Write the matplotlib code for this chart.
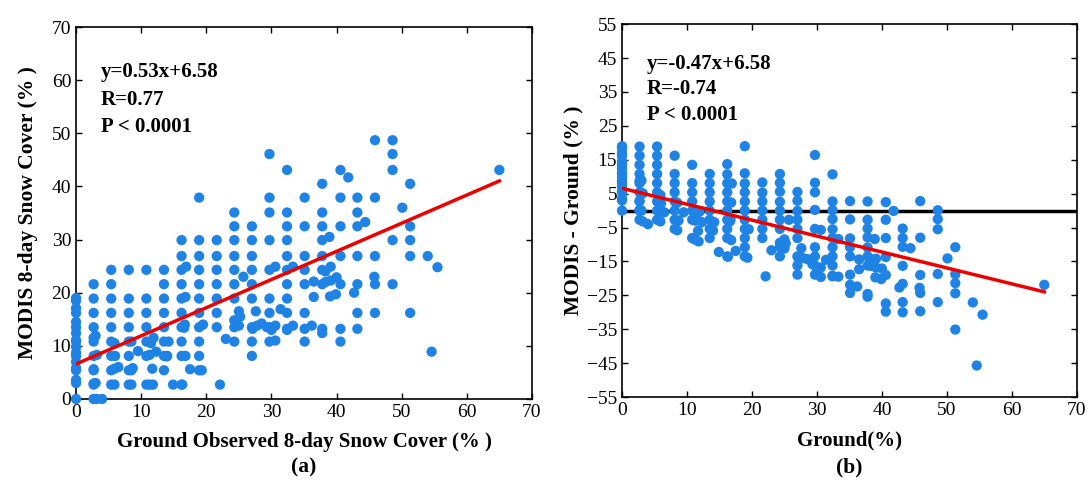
import numpy as np
import matplotlib
matplotlib.use("Agg")
import matplotlib.pyplot as plt

# Ground observed 8-day snow cover (%) and MODIS 8-day snow cover (%) pairs
ground = [
    # x = 0
    0, 0, 0, 0, 0, 0, 0, 0, 0, 0, 0, 0, 0, 0, 0, 0, 0, 0,
    # x = 2.7
    2.7, 2.7, 2.7, 2.7, 2.7, 2.7, 2.7, 2.7, 2.7, 2.7, 2.7, 2.7,
    3.2, 4.0, 3.0, 3.2, 3.0,
    # x = 5.4
    5.4, 5.4, 5.4, 5.4, 5.4, 5.4, 5.4, 5.4, 5.4,
    5.9, 5.9, 6.0, 5.9, 6.5,
    # x = 8.1
    8.1, 8.1, 8.1, 8.1, 8.1, 8.1, 8.1, 8.1,
    8.5, 8.7, 8.5, 9.5, 8.5,
    # x = 10.8
    10.8, 10.8, 10.8, 10.8, 10.8, 10.8, 10.8,
    11.3, 11.3, 11.8, 11.7, 11.9, 12.3, 11.5,
    # x = 13.5
    13.5, 13.5, 13.5, 13.5, 13.5, 13.5, 13.5, 13.5,
    14.0, 14.2, 13.9,
    14.9, 16.3,
    # x = 16.2
    16.2, 16.2, 16.2, 16.2, 16.2, 16.2, 16.2, 16.2, 16.2, 16.2,
    16.8, 16.7, 16.8, 16.9, 16.6,
    # x = 18.9
    18.9, 18.9, 18.9, 18.9, 18.9, 18.9, 18.9, 18.9, 18.9, 18.9, 18.9,
    19.3, 19.5, 17.5,
    22.1,
    # x = 21.6
    21.6, 21.6, 21.6, 21.6, 21.6, 21.6, 21.6,
    23.0,
    # x = 24.3
    24.3, 24.3, 24.3, 24.3, 24.3, 24.3, 24.3, 24.3, 24.3, 24.3,
    25.0, 25.2, 25.0, 25.7,
    # x = 27.0
    27.0, 27.0, 27.0, 27.0, 27.0, 27.0, 27.0, 27.0, 27.0,
    27.6, 27.8, 28.5, 29.3, 27.1,
    # x = 29.7
    29.7, 29.7, 29.7, 29.7, 29.7, 29.7, 29.7, 29.7, 29.7,
    30.6, 30.6, 30.6, 30.0,
    31.4,
    # x = 32.4
    32.4, 32.4, 32.4, 32.4, 32.4, 32.4, 32.4, 32.4, 32.4, 32.4,
    33.3, 33.3, 32.4,
    # x = 35.1
    35.1, 35.1, 35.1, 35.1, 35.1, 35.1, 35.1, 35.1,
    36.2, 36.5, 36.5,
    # x = 37.8
    37.8, 37.8, 37.8, 37.8, 37.8, 37.8, 37.8, 37.8, 37.8,
    38.3, 38.3,
    38.9, 39.1, 39.1, 39.0, 39.9, 40.0,
    # x = 40.5
    40.6, 40.6, 40.6, 40.6, 40.6, 40.6, 40.6,
    41.8, 42.7,
    # x = 43.2
    43.2, 43.2, 43.2, 43.2, 43.2, 43.2, 43.2,
    44.4,
    # x = 45.9
    45.9, 45.9, 45.9, 45.9, 45.9, 45.8,
    # x = 48.6
    48.6, 48.6, 48.6, 48.6, 48.6,
    50.1,
    # x = 51.3
    51.3, 51.3, 51.3, 51.3, 51.3,
    54.0, 54.6, 55.5, 65.0,
]

modis = [
    0, 3.0, 3.6, 5.4, 5.8, 7.0, 8.1, 8.7, 9.8, 10.8, 11.1, 12.4, 13.5, 14.5, 16.2, 17.1, 18.5, 19.0,
    0, 2.7, 2.9, 5.4, 5.6, 8.1, 10.8, 11.5, 13.5, 16.2, 18.9, 21.6,
    0, 0, 3.0, 8.3, 11.9,
    2.7, 5.4, 8.1, 10.8, 13.5, 16.2, 18.9, 21.6, 24.3,
    2.7, 5.7, 8.1, 10.5, 6.0,
    2.7, 5.4, 8.1, 10.8, 13.5, 16.2, 18.9, 24.3,
    5.4, 5.8, 10.8, 9.0, 2.7,
    2.7, 8.1, 10.8, 13.5, 16.2, 18.9, 24.3,
    8.3, 2.7, 2.7, 5.7, 11.5, 8.9, 10.5,
    5.4, 8.1, 10.8, 13.5, 16.2, 18.9, 21.6, 24.3,
    8.1, 10.8, 8.0,
    2.7, 2.7,
    2.7, 8.1, 10.8, 13.5, 16.2, 18.9, 21.6, 24.3, 26.9, 29.9,
    8.1, 14.0, 19.2, 24.9, 13.4,
    5.4, 8.1, 10.8, 13.5, 16.2, 18.9, 21.6, 24.3, 26.9, 29.9, 37.9,
    5.4, 14.0, 5.6,
    2.7,
    13.5, 16.2, 18.9, 21.6, 24.3, 26.9, 29.9,
    11.3,
    10.8, 13.5, 14.8, 18.9, 21.6, 24.3, 26.9, 29.9, 32.5, 35.1,
    13.8, 15.5, 16.5, 23.0,
    8.1, 10.8, 13.5, 18.9, 21.6, 24.3, 26.9, 29.9, 32.5,
    16.5, 13.8, 14.2, 13.5, 13.2,
    10.8, 13.5, 16.2, 18.9, 24.3, 29.9, 35.1, 37.9, 46.1,
    11.0, 13.8, 24.9, 13.0,
    16.9,
    13.2, 16.2, 18.9, 21.6, 24.3, 26.9, 29.9, 32.5, 35.1, 43.1,
    13.8, 24.9, 13.0,
    10.8, 13.2, 16.2, 21.6, 24.3, 26.9, 32.5, 37.9,
    13.8, 19.2, 22.1,
    12.4, 13.2, 21.6, 24.3, 26.9, 29.9, 32.5, 35.1, 40.5,
    22.0, 24.0,
    30.5, 24.9, 22.3, 19.3, 19.7, 22.9,
    10.8, 13.2, 21.6, 26.9, 32.5, 37.9, 43.1,
    41.7, 20.0,
    13.2, 16.2, 21.6, 26.9, 32.5, 35.1, 37.9,
    33.3,
    16.2, 21.6, 26.9, 37.9, 48.7, 23.0,
    21.6, 29.9, 43.1, 46.1, 48.7,
    36.0,
    16.2, 26.9, 29.9, 32.5, 40.5,
    26.9, 8.9, 24.8, 43.1,
]

slope_a, intercept_a = 0.53, 6.58
slope_b, intercept_b = -0.47, 6.58
text_a = ["y=0.53x+6.58", "R=0.77", "P < 0.0001"]
text_b = ["y=-0.47x+6.58", "R=-0.74", "P < 0.0001"]

ground = np.array(ground, dtype=float)
modis = np.array(modis, dtype=float)
diff = modis - ground

plt.rcParams['font.family'] = ['Liberation Serif', 'DejaVu Serif']

fig = plt.figure(figsize=(10.88, 4.83), dpi=100)
ax1 = fig.add_axes([0.0699, 0.174, 0.419, 0.770])
ax2 = fig.add_axes([0.5717, 0.178, 0.418, 0.772])

blue = '#1f83e6'
red = '#ee0000'
ms = 55

for ax in (ax1, ax2):
    ax.tick_params(direction='in', top=True, right=True, labelsize=14, length=4, width=1)
    for sp in ax.spines.values():
        sp.set_linewidth(1.2)

# Panel (a)
ax1.scatter(ground, modis, s=ms, color=blue, edgecolors='none', zorder=3, clip_on=False)
xs = np.array([0, ground.max()])
ax1.plot(xs, slope_a * xs + intercept_a, color=red, lw=2.5, zorder=4)
ax1.set_xlim(0, 70)
ax1.set_ylim(0, 70)
ax1.set_xticks(np.arange(0, 71, 10))
ax1.set_yticks(np.arange(0, 71, 10))
ax1.set_xlabel("Ground Observed 8-day Snow Cover (% )", fontsize=15, fontweight='bold', labelpad=8)
ax1.set_ylabel("MODIS 8-day Snow Cover (% )", fontsize=15.5, fontweight='bold', labelpad=10)
for i, t in enumerate(text_a):
    ax1.text(0.055, 0.878 - i * 0.073, t, transform=ax1.transAxes, fontsize=15,
             fontweight='bold', va='center', ha='left')
ax1.text(0.5, -0.185, "(a)", transform=ax1.transAxes, fontsize=15.5, fontweight='bold',
         ha='center', va='center')

# Panel (b)
ax2.axhline(0, color='black', lw=2.5, zorder=2)
ax2.scatter(ground, diff, s=ms, color=blue, edgecolors='none', zorder=3, clip_on=False)
ax2.plot(xs, slope_b * xs + intercept_b, color=red, lw=2.5, zorder=4)
ax2.set_xlim(0, 70)
ax2.set_ylim(-55, 55)
ax2.set_xticks(np.arange(0, 71, 10))
ax2.set_yticks(np.arange(-55, 56, 10))
ax2.set_xlabel("Ground(%)", fontsize=15, fontweight='bold', labelpad=8)
ax2.set_ylabel("MODIS - Ground (% )", fontsize=15.5, fontweight='bold', labelpad=2)
for i, t in enumerate(text_b):
    ax2.text(0.055, 0.893 - i * 0.068, t, transform=ax2.transAxes, fontsize=15,
             fontweight='bold', va='center', ha='left')
ax2.text(0.5, -0.19, "(b)", transform=ax2.transAxes, fontsize=15.5, fontweight='bold',
         ha='center', va='center')

fig.savefig("out.png", dpi=100)
